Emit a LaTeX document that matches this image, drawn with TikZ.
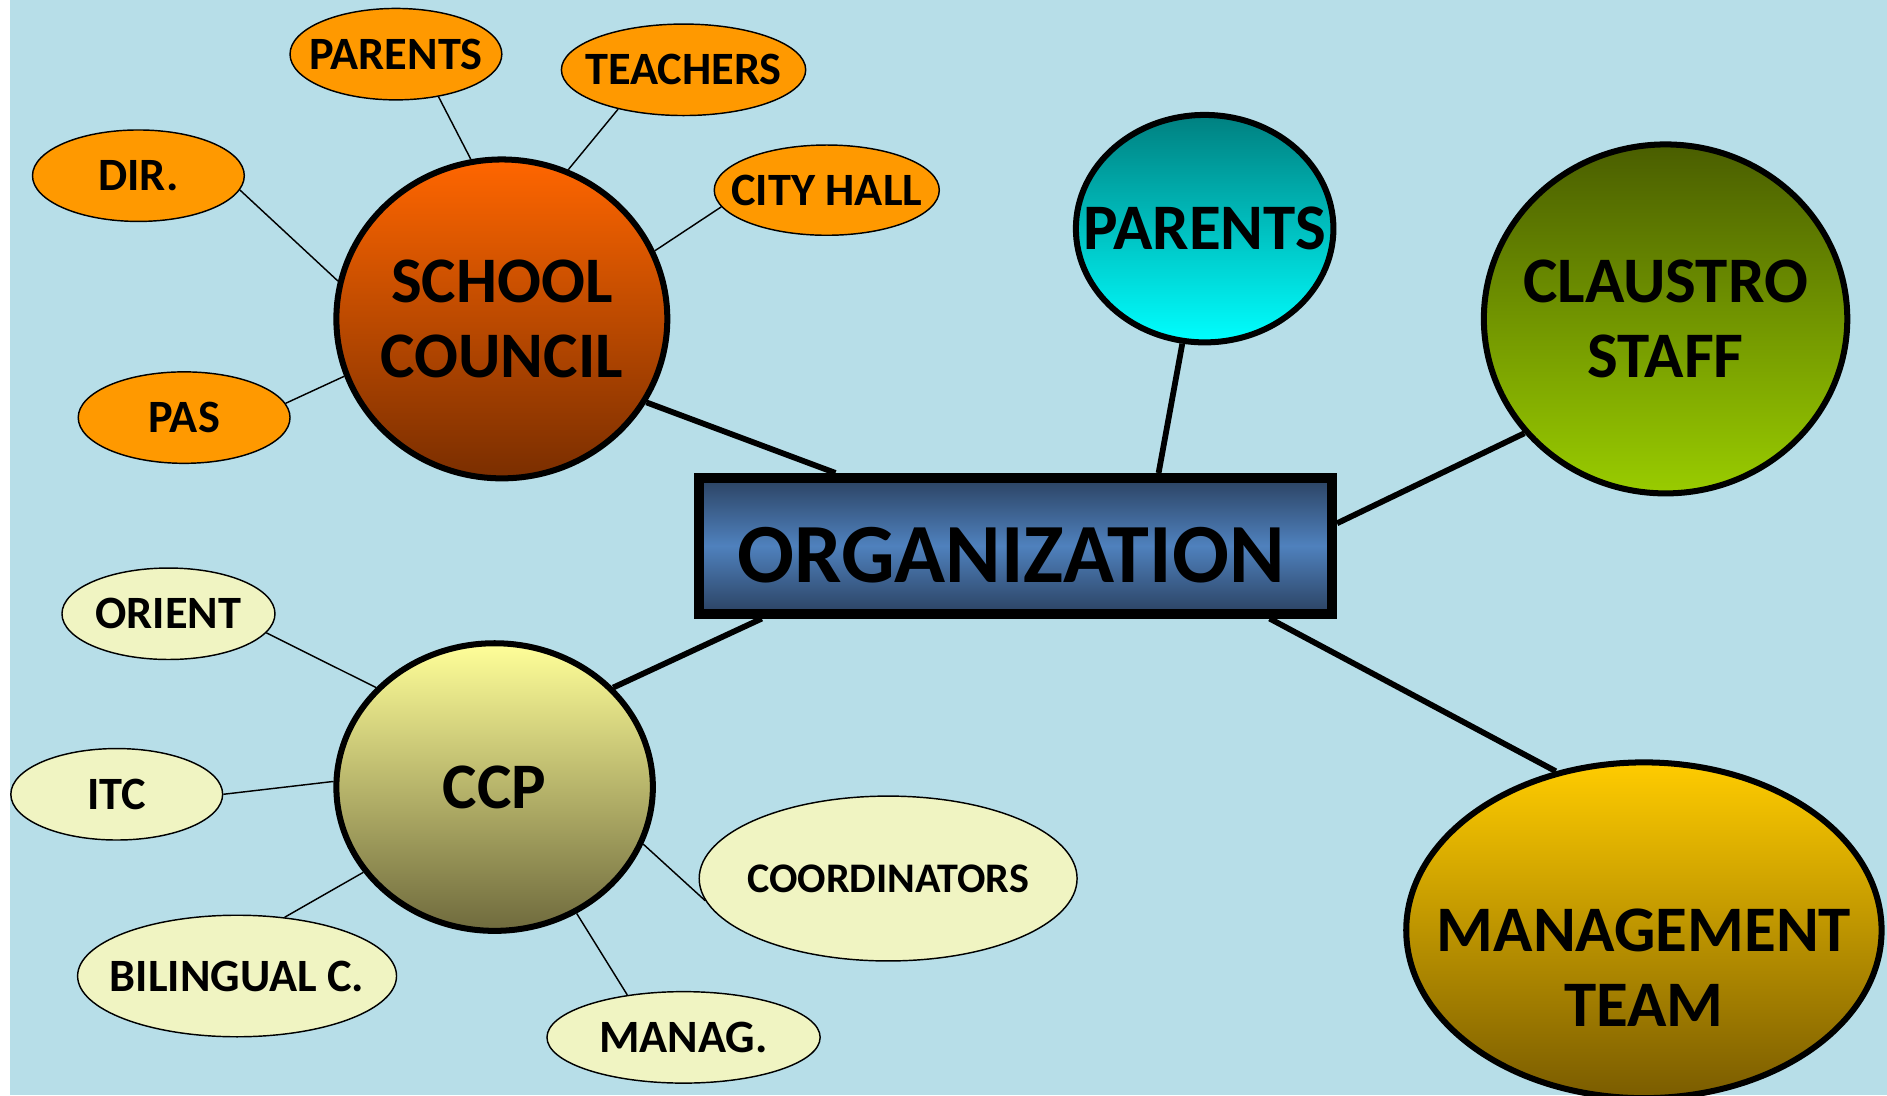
\documentclass[tikz,border=0pt]{standalone}
\usepackage{fontspec}
\setmainfont{Carlito}
\usetikzlibrary{shapes.geometric}
\definecolor{bgblue}{HTML}{B7DEE8}
\definecolor{orangefill}{HTML}{FF9900}
\definecolor{ylwfill}{HTML}{F0F4C2}
\definecolor{scTop}{HTML}{FF6600}
\definecolor{scBot}{HTML}{7A2E00}
\definecolor{orgTop}{HTML}{2B4262}
\definecolor{orgMid}{HTML}{4F81BD}
\definecolor{orgBot}{HTML}{2B4262}
\definecolor{parTop}{HTML}{008080}
\definecolor{parBot}{HTML}{00FFFF}
\definecolor{clTop}{HTML}{4A5E00}
\definecolor{clBot}{HTML}{99CC00}
\definecolor{mtTop}{HTML}{FFCC00}
\definecolor{mtBot}{HTML}{7A5C00}
\definecolor{ccpTop}{HTML}{FFFF99}
\definecolor{ccpBot}{HTML}{6F6A3D}
\begin{document}
\begin{tikzpicture}[x=1pt,y=-1pt,
  bignode/.style={ellipse, draw=black, line width=5pt, inner sep=0pt},
  smallnode/.style={ellipse, draw=black, line width=1.2pt, inner sep=0pt, fill=orangefill},
  ylwnode/.style={smallnode, fill=ylwfill},
  biglab/.style={font=\fontsize{54}{62.5}\selectfont\bfseries, align=center, inner sep=0pt},
  smalllab/.style={font=\fontsize{38.5}{44}\selectfont\bfseries, inner sep=0pt},
  thinlink/.style={line width=1.2pt},
  thicklink/.style={line width=4.8pt},
]
\clip (0,0) rectangle (1568,910);
\fill[white] (0,0) rectangle (1568,910);
\fill[bgblue] (8,0) rectangle (1568,910);

% central box
\node[rectangle, draw=black, line width=8pt, minimum width=526pt, minimum height=113pt,
      top color=orgTop, bottom color=orgBot, middle color=orgMid, inner sep=0pt,
      label={[font=\fontsize{70}{80}\selectfont\bfseries, inner sep=0pt, xshift=-4pt, yshift=-8pt]center:ORGANIZATION}]
      (org) at (844,453.5) {};

% big ellipses
\node[bignode, minimum width=275pt, minimum height=265pt, top color=scTop, bottom color=scBot,
      label={[biglab]center:SCHOOL\\COUNCIL}] (sc) at (417,265) {};
\node[bignode, minimum width=214pt, minimum height=189pt, top color=parTop, bottom color=parBot,
      label={[biglab]center:PARENTS}] (par) at (1001,190) {};
\node[bignode, minimum width=302pt, minimum height=290pt, top color=clTop, bottom color=clBot,
      label={[biglab]center:CLAUSTRO\\STAFF}] (cl) at (1384,265) {};
\node[bignode, minimum width=395pt, minimum height=279pt, top color=mtTop, bottom color=mtBot,
      label={[biglab, yshift=-31pt]center:MANAGEMENT\\TEAM}] (mt) at (1366,773) {};
\node[bignode, minimum width=263pt, minimum height=239pt, top color=ccpTop, bottom color=ccpBot,
      label={[biglab]center:CCP}] (ccp) at (411,654) {};

% school council satellites
\node[smallnode, minimum width=176pt, minimum height=76pt, label={[smalllab]center:PARENTS}] (scpar) at (329,45) {};
\node[smallnode, minimum width=203pt, minimum height=76pt, label={[smalllab]center:TEACHERS}] (sctea) at (568,58) {};
\node[smallnode, minimum width=176pt, minimum height=76pt, label={[smalllab]center:DIR.}] (scdir) at (115,146) {};
\node[smallnode, minimum width=187pt, minimum height=75pt, label={[smalllab]center:CITY HALL}] (scch) at (687,158) {};
\node[smallnode, minimum width=176pt, minimum height=76pt, label={[smalllab]center:PAS}] (scpas) at (153,347) {};

% ccp satellites
\node[ylwnode, minimum width=177pt, minimum height=76pt, label={[smalllab]center:ORIENT}] (cor) at (140,510) {};
\node[ylwnode, minimum width=176pt, minimum height=76pt, label={[smalllab]center:ITC}] (citc) at (97,660) {};
\node[ylwnode, minimum width=265pt, minimum height=101pt, label={[smalllab]center:BILINGUAL C.}] (cbil) at (197,811) {};
\node[ylwnode, minimum width=227pt, minimum height=76pt, label={[smalllab]center:MANAG.}] (cman) at (568,862) {};
\node[ylwnode, minimum width=314pt, minimum height=137pt, label={[smalllab, font=\fontsize{35}{40}\selectfont\bfseries]center:COORDINATORS}] (ccoo) at (738,730) {};

% thin connectors
\draw[thinlink] (scpar.-45) -- (sc.101);
\draw[thinlink] (sctea.211) -- (sc.66.5);
\draw[thinlink] (scdir.-8) -- (sc.167);
\draw[thinlink] (scch.189) -- (sc.24);
\draw[thinlink] (scpas.8) -- (sc.200);
\draw[thinlink] (cor.-11) -- (ccp.140);
\draw[thinlink] (citc.0) -- (ccp.178);
\draw[thinlink] (cbil.51) -- (ccp.213);
\draw[thinlink] (cman.143) -- (ccp.-57);
\draw[thinlink] (ccoo.187) -- (ccp.-21);

% thick connectors
\draw[thicklink] (sc.-30.6) -- (org.158.6);
\draw[thicklink] (par.-101) -- (org.27.6);
\draw[thicklink] (cl.219) -- (org.4);
\draw[thicklink] (mt.119.4) -- (org.-16.3);
\draw[thicklink] (ccp.40) -- (org.196.5);
\end{tikzpicture}
\end{document}
